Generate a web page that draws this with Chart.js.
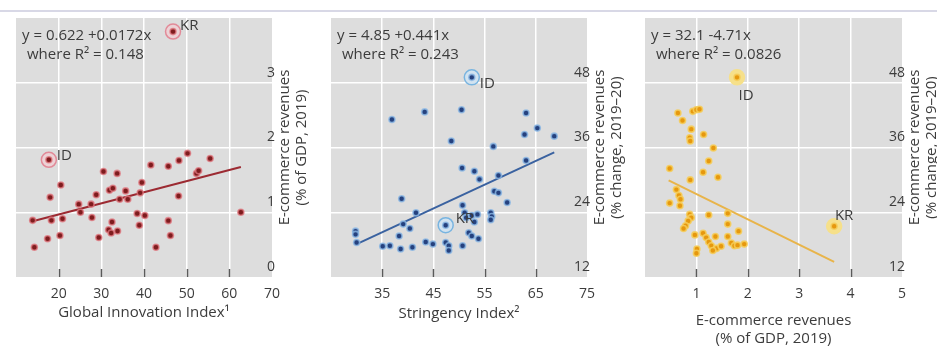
<!DOCTYPE html>
<html><head><meta charset="utf-8">
<script src="https://cdn.jsdelivr.net/npm/chart.js@4.4.1/dist/chart.umd.min.js"></script>
<style>
html,body{margin:0;padding:0;background:#fff;}
body{width:937px;height:347px;position:relative;overflow:hidden;}
.topline{position:absolute;left:0;top:10px;width:937px;height:2px;background:#d8d8e6;}
.c{position:absolute;top:0;height:347px;}
</style></head><body>
<div class="topline"></div>
<div class="c" style="left:0;width:315px"><canvas id="c1" width="315" height="347"></canvas></div>
<div class="c" style="left:315px;width:317px"><canvas id="c2" width="317" height="347"></canvas></div>
<div class="c" style="left:632px;width:305px"><canvas id="c3" width="305" height="347"></canvas></div>
<script>
// ---------- Panel 1: Global Innovation Index vs E-commerce revenues (% of GDP) ----------
const giiX = [13.9,14.3,17.4,18.0,18.3,20.5,20.3,20.9,24.7,25.1,27.6,27.8,28.8,29.4,30.5,31.9,32.7,32.5,31.7,32.3,33.7,33.8,34.3,35.7,36.2,38.4,38.9,39.5,39.1,40.2,41.6,42.8,45.7,45.7,46.2,48.2,48.1,50.2,52.3,52.8,55.5,62.7];
const giiY = [0.875,0.46,0.59,1.23,0.875,1.42,0.64,0.90,1.125,1.0,1.125,0.92,1.27,0.61,1.63,1.34,1.37,0.85,0.73,0.68,1.60,0.71,1.20,1.33,1.20,0.98,0.80,1.46,1.30,0.95,1.73,0.46,1.71,0.87,0.64,1.80,1.25,1.91,1.60,1.64,1.83,1.0];
const giiHiLabels = ['ID','KR'];
const giiHiX = [17.7,46.8];
const giiHiY = [1.81,3.79];
const giiTrendX = [13.9,62.7];
const giiTrendY = [0.86,1.70];
const giiXTicks = [20,30,40,50,60,70];
const giiYTicks = [0,1,2,3];

// ---------- Panel 2: Stringency Index vs E-commerce revenues (% change 2019-20) ----------
const strX = [36.9,43.3,50.5,63.1,65.3,62.8,68.6,48.5,56.7,63.1,50.6,53.0,54.0,57.7,56.9,57.7,59.4,50.7,38.8,41.6,39.1,40.4,29.8,29.8,30.0,38.3,35.1,36.5,38.6,40.9,43.5,44.9,47.4,48.0,48.0,50.7,51.1,51.4,52.5,53.6,53.0,51.9,52.5,53.8,56.2,56.4,56.2];
const strY = [41.2,42.6,43.0,42.4,39.6,38.4,38.1,37.2,36.2,33.6,32.2,31.6,30.1,30.8,27.9,27.6,25.8,25.3,26.5,23.9,21.8,21.0,20.5,19.9,18.4,19.6,17.7,17.8,17.2,17.5,18.5,18.1,18.4,17.8,16.9,17.8,23.9,23.0,23.4,23.6,22.2,20.2,19.6,19.1,23.9,23.2,22.6];
const strHiLabels = ['ID','KR'];
const strHiX = [52.5,47.4];
const strHiY = [49.0,21.6];
const strTrendX = [30.0,68.6];
const strTrendY = [18.1,35.1];
const strXTicks = [35,45,55,65,75];
const growthYTicks = [12,24,36,48];

// ---------- Panel 3: E-commerce revenues (% of GDP) vs growth ----------
const ecX = [0.64,0.73,0.93,1.0,1.06,0.90,0.87,0.88,1.14,1.33,1.24,0.48,1.13,1.42,0.88,0.61,0.66,0.69,0.68,0.48,0.87,0.90,0.84,0.79,0.75,1.24,1.61,1.61,1.82,0.97,1.13,1.19,1.24,1.37,1.61,1.29,1.39,1.48,1.68,1.74,1.80,1.93,1.01,1.0,1.32];
const ecY = [42.4,41.0,42.7,43.0,43.1,39.4,37.8,37.2,38.4,35.9,33.5,32.1,31.4,30.5,30.0,28.2,27.1,26.4,25.2,25.7,23.6,23.0,22.4,21.5,21.0,23.5,23.8,21.8,20.5,19.8,20.1,19.3,18.5,19.5,19.5,17.8,17.3,17.7,18.3,17.8,17.9,18.1,17.2,16.4,16.9];
const ecHiLabels = ['ID','KR'];
const ecHiX = [1.79,3.68];
const ecHiY = [49.0,21.4];
const ecTrendX = [0.46,3.68];
const ecTrendY = [29.9,14.8];
const ecXTicks = [1,2,3,4,5];

const FONT = '"Open Sans", "Noto Sans", sans-serif';
const TXT = '#3c3c3c';
const pts = (xs, ys) => xs.map((x, i) => ({x, y: ys[i]}));

const panelPlugin = {
  id: 'panel',
  beforeDraw(chart) {
    const {ctx, chartArea: a} = chart;
    ctx.save();
    ctx.fillStyle = '#dddddd';
    ctx.fillRect(a.left, a.top, a.right - a.left, a.bottom - a.top);
    ctx.restore();
  },
  afterDraw(chart) {
    const o = chart.options.plugins.panel;
    const {ctx, chartArea: a, scales} = chart;
    const xs = scales.x, ys = scales.y;
    ctx.save();
    // tick marks inside the bottom of the plot
    ctx.strokeStyle = '#5a5a5a'; ctx.lineWidth = 1.5;
    o.xTicks.forEach(v => {
      if (v >= xs.max) return;
      const px = Math.round(xs.getPixelForValue(v)) + 0.5;
      ctx.beginPath(); ctx.moveTo(px, a.bottom - 8); ctx.lineTo(px, a.bottom); ctx.stroke();
    });
    ctx.fillStyle = TXT;
    ctx.font = '15px ' + FONT;
    ctx.textBaseline = 'middle';
    // equation
    ctx.textAlign = 'left';
    ctx.fillText(o.eq[0], a.left + 6, 36);
    ctx.fillText(o.eq[1], a.left + 11, 55);
    // point labels
    o.hiLabels.forEach((lab, i) => {
      const px = xs.getPixelForValue(o.hiX[i]), py = ys.getPixelForValue(o.hiY[i]);
      const off = o.labelOff[i];
      ctx.textAlign = off[2];
      ctx.fillText(lab, px + off[0], py + off[1]);
    });
    // x title
    ctx.textAlign = 'center';
    const cx = (a.left + a.right) / 2;
    o.xTitle.forEach((t, i) => ctx.fillText(t, cx, o.xTitleY + i * 18));
    // y title rotated
    const cy = (a.top + a.bottom) / 2;
    o.yTitle.forEach((t, i) => {
      ctx.save();
      ctx.translate(a.right + 13 + i * 17, cy);
      ctx.rotate(-Math.PI / 2);
      ctx.textAlign = 'center';
      ctx.fillText(t, 0, 0);
      ctx.restore();
    });
    ctx.restore();
  }
};

function makeChart(id, c) {
  const hidden = (v, lo, hi) => v <= lo + 1e-9 || v >= hi - 1e-9;
  return new Chart(document.getElementById(id), {
    type: 'scatter',
    data: {
      datasets: [
        { data: pts(c.x, c.y).concat(pts(c.hiX, c.hiY)), pointRadius: 3, pointBorderWidth: 1.6,
          backgroundColor: c.dot, borderColor: c.halo, order: 0 },
        { data: pts(c.trendX, c.trendY), showLine: true, pointRadius: 0, borderColor: c.line,
          borderWidth: 2, order: 1 },
        { data: pts(c.hiX, c.hiY), pointRadius: 7.5, pointBorderWidth: 1.5,
          backgroundColor: c.ringFill, borderColor: c.ring, order: 2 }
      ]
    },
    options: {
      responsive: false, animation: false, events: [],
      layout: { padding: { left: c.padLeft, top: 18, right: 0, bottom: 0 } },
      plugins: {
        legend: { display: false }, tooltip: { enabled: false },
        panel: { xTicks: c.xTicks, eq: c.eq, hiLabels: c.hiLabels, hiX: c.hiX, hiY: c.hiY,
                 labelOff: c.labelOff, xTitle: c.xTitle, xTitleY: c.xTitleY, yTitle: c.yTitle }
      },
      scales: {
        x: {
          type: 'linear', position: 'bottom', min: c.xMin, max: c.xMax,
          afterBuildTicks: s => { s.ticks = [c.xMin].concat(c.xTicks).map(v => ({value: v})); },
          afterFit: s => { s.height = 70; },
          border: { display: false },
          grid: { drawTicks: false, lineWidth: 1.5,
                  color: ctx => hidden(ctx.tick.value, c.xMin, c.xMax) ? 'rgba(0,0,0,0)' : '#ffffff' },
          ticks: { padding: 9, color: TXT, font: { family: FONT, size: 14 }, maxRotation: 0,
                   autoSkip: false,
                   callback: v => (Math.abs(v - c.xMin) < 1e-9 ? '' : String(v)) }
        },
        y: {
          type: 'linear', position: 'right', min: c.yMin, max: c.yMax,
          afterBuildTicks: s => { s.ticks = c.yTicks.concat([c.yMax]).map(v => ({value: v})); },
          afterFit: s => { s.width = c.yAxisWidth; },
          border: { display: false },
          grid: { drawTicks: false, lineWidth: 1.5,
                  color: ctx => hidden(ctx.tick.value, c.yMin, c.yMax) ? 'rgba(0,0,0,0)' : '#ffffff' },
          ticks: { mirror: true, padding: 3, labelOffset: -10, color: TXT,
                   font: { family: FONT, size: 14 }, autoSkip: false,
                   callback: v => (Math.abs(v - c.yMax) < 1e-9 ? '' : String(v)) }
        }
      }
    },
    plugins: [panelPlugin]
  });
}

makeChart('c1', {
  x: giiX, y: giiY, hiX: giiHiX, hiY: giiHiY, hiLabels: giiHiLabels,
  trendX: giiTrendX, trendY: giiTrendY,
  xMin: 10, xMax: 70, xTicks: giiXTicks, yMin: 0, yMax: 4, yTicks: giiYTicks,
  padLeft: 16, yAxisWidth: 43,
  dot: '#7e1c1e', halo: 'rgba(226,120,128,0.75)', line: '#9c2a32',
  ring: '#e28a98', ringFill: '#ecd2d6',
  eq: ['y = 0.622 +0.0172x', 'where R² = 0.148'],
  labelOff: [[8, -4, 'left'], [7, -6, 'left']],
  xTitle: ['Global Innovation Index¹'], xTitleY: 313,
  yTitle: ['E-commerce revenues', '(% of GDP, 2019)']
});

makeChart('c2', {
  x: strX, y: strY, hiX: strHiX, hiY: strHiY, hiLabels: strHiLabels,
  trendX: strTrendX, trendY: strTrendY,
  xMin: 25, xMax: 75, xTicks: strXTicks, yMin: 12, yMax: 60, yTicks: growthYTicks,
  padLeft: 16, yAxisWidth: 45,
  dot: '#25417e', halo: 'rgba(140,185,230,0.8)', line: '#3a62a0',
  ring: '#78b4e0', ringFill: '#d2e3f0',
  eq: ['y = 4.85 +0.441x', 'where R² = 0.243'],
  labelOff: [[8, 6, 'left'], [10, -6, 'left']],
  xTitle: ['Stringency Index²'], xTitleY: 314,
  yTitle: ['E-commerce revenues', '(% change, 2019–20)']
});

makeChart('c3', {
  x: ecX, y: ecY, hiX: ecHiX, hiY: ecHiY, hiLabels: ecHiLabels,
  trendX: ecTrendX, trendY: ecTrendY,
  xMin: 0, xMax: 5, xTicks: ecXTicks, yMin: 12, yMax: 60, yTicks: growthYTicks,
  padLeft: 13, yAxisWidth: 35,
  dot: '#e6980e', halo: 'rgba(246,206,90,0.85)', line: '#e8b44a',
  ring: '#f6e08a', ringFill: '#f6e08a',
  eq: ['y = 32.1 -4.71x', 'where R² = 0.0826'],
  labelOff: [[9, 18, 'center'], [10, -11, 'center']],
  xTitle: ['E-commerce revenues', '(% of GDP, 2019)'], xTitleY: 321,
  yTitle: ['E-commerce revenues', '(% change, 2019–20)']
});
</script>
</body></html>
